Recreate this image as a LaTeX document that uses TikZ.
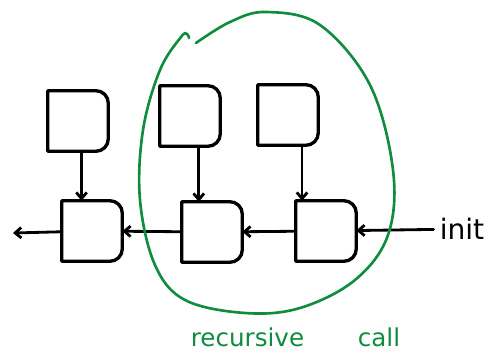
\documentclass[tikz,border=0pt]{standalone}
\usepackage{fontspec}
\setmainfont{DejaVu Sans}
\usetikzlibrary{arrows.meta}

\definecolor{markgreen}{RGB}{16,140,62}

\tikzset{
    dbox/.style={minimum width=1cm, minimum height=1cm, inner sep=0pt, outer sep=3pt},
    dline/.style={line width=1.9pt, line cap=round, line join=round},
    link/.style={line width=1.6pt, line cap=round, ->, >={Straight Barb[length=3.5pt,width=6pt]}},
}

\begin{document}
\begin{tikzpicture}
        \useasboundingbox (0,0) rectangle (9.9,-7.08);

        \node[dbox] at (1.56,-2.42) (A) {};
        \node[dbox] at (3.80,-2.32) (B) {};
        \node[dbox] at (5.76,-2.30) (C) {};
        \node[dbox] at (1.84,-4.62) (D) {};
        \node[dbox] at (4.24,-4.64) (E) {};
        \node[dbox] at (6.52,-4.62) (F) {};
        \node at (9.24,-4.58) (G) {\fontsize{16}{16}\selectfont init};
        \coordinate (out) at (0.26,-4.66);

        % the D shaped boxes
        \foreach \n in {A,B,C,D,E,F}
            \draw[dline] (\n.south west) -- (\n.north west) -- ([xshift=-7pt]\n.north east)
                arc[start angle=90, end angle=0, radius=7pt] -- ([yshift=7pt]\n.south east)
                arc[start angle=0, end angle=-90, radius=7pt] -- cycle;

        \draw [link] ([xshift=2pt]A.south) -- ([xshift=2pt]A.south |- D.north);
        \draw [link] ([xshift=5pt]B.south) -- ([xshift=5pt]B.south |- E.north);
        \draw [link] ([xshift=8pt]C.south) -- ([xshift=8pt]C.south |- F.north);
        \draw [link] (G) -- (F);
        \draw [link] (F) -- (E);
        \draw [link] (E) -- (D);
        \draw [link] (D) -- (out);

        % loop round the recursive part
        \draw[markgreen, line width=1.5pt, line cap=round] plot[smooth, tension=0.6] coordinates {
            (3.92,-0.86) (4.60,-0.44) (5.32,-0.24) (6.40,-0.50) (7.40,-1.70) (7.86,-3.40)
            (7.76,-4.70) (7.10,-5.60) (6.00,-6.16) (4.90,-6.26) (3.70,-6.00) (3.10,-5.30)
            (2.80,-4.00) (2.86,-2.60) (3.20,-1.40) (3.62,-0.74) (3.74,-0.68) (3.78,-0.76)};

        \node[markgreen] at (4.95,-6.74) (rec) {\fontsize{14}{14}\selectfont recursive};
        \node[markgreen] at (7.58,-6.74) (call) {\fontsize{14}{14}\selectfont call};
    \end{tikzpicture}
\end{document}
